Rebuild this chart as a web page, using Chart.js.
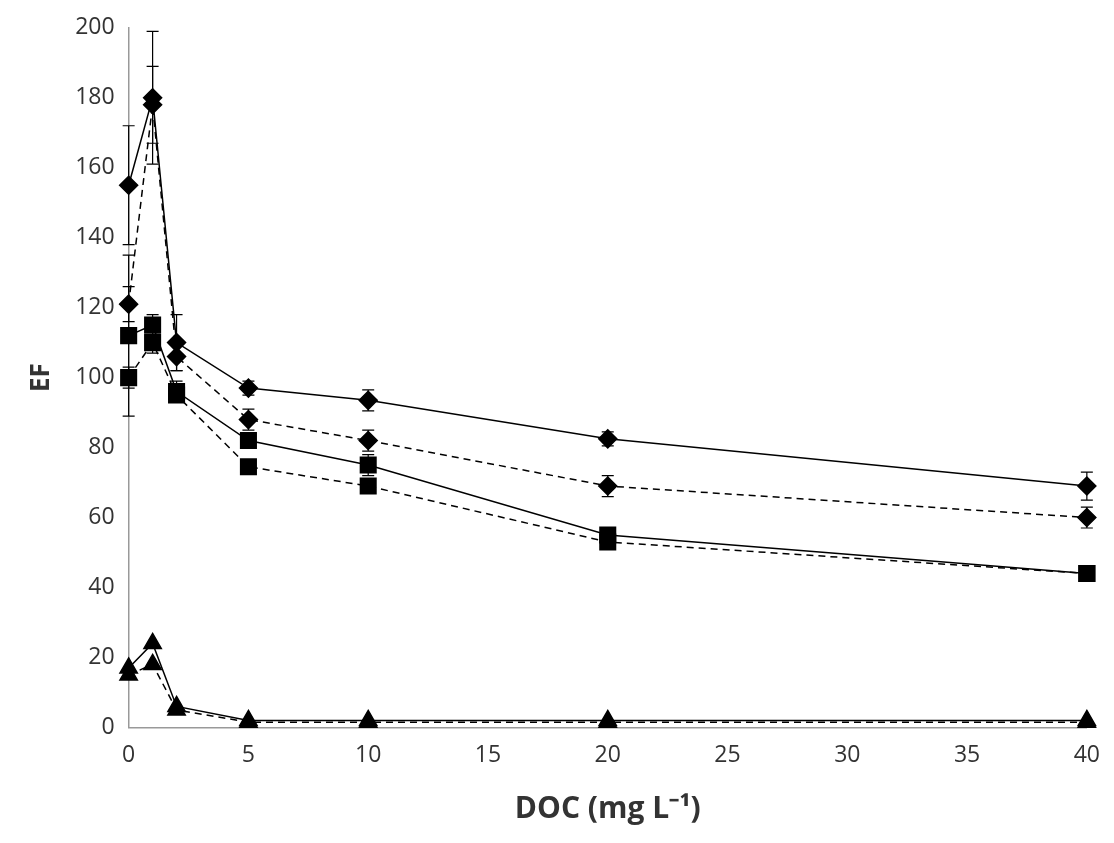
<!DOCTYPE html>
<html><head><script src="https://cdn.jsdelivr.net/npm/chart.js@4"></script>
<style>body{margin:0;background:#fff}#w{width:1114px;height:843px}</style></head>
<body><div id="w"><canvas id="c"></canvas></div>
<script>
const doc = [0,1,2,5,10,20,40];
const diamondSolid = [155,180,110,97,93.5,82.5,69];
const diamondSolidErr = [17,19,8,2,3,2,4];
const diamondDashed = [121,178,106,88,82,69,60];
const diamondDashedErr = [5,11,4,3,3,3,3];
const squareSolid = [112,115,96,82,75,55,44];
const squareSolidErr = [23,3,3,2,3,2,2];
const squareDashed = [100,110,95,74.5,69,53,44];
const squareDashedErr = [3,3,2,2,2,2,2];
const triSolid = [17,24,6,2,2,2,2];
const triDashed = [15,18,5,1.5,1.5,1.5,1.5];
const xTicks = [0,5,10,15,20,25,30,35,40];

function mk(label, ys, err, style, dash, r){
  return {label, data: doc.map((x,i)=>({x, y: ys[i]})), err, clip:false,
    borderColor:'#000', backgroundColor:'#000', borderWidth:1.5, borderDash: dash,
    pointStyle: style, pointRadius: r, pointHoverRadius: r, tension:0, showLine:true};
}
const errPlugin = {id:'err', afterDatasetsDraw(ch){
  const c=ch.ctx, xs=ch.scales.x, ys=ch.scales.y;
  c.save(); c.strokeStyle='#000'; c.lineWidth=1.2;
  ch.data.datasets.forEach(ds=>{ if(!ds.err) return;
    ds.data.forEach((p,i)=>{ const e=ds.err[i]; const px=xs.getPixelForValue(p.x);
      const t=ys.getPixelForValue(p.y+e), b=ys.getPixelForValue(p.y-e);
      c.beginPath(); c.moveTo(px,t); c.lineTo(px,b);
      c.moveTo(px-6,t); c.lineTo(px+6,t); c.moveTo(px-6,b); c.lineTo(px+6,b); c.stroke();});
  }); c.restore(); }};
new Chart(document.getElementById('c'), {
  type:'scatter',
  data:{datasets:[
    mk('Diamond solid', diamondSolid, diamondSolidErr, 'rectRot', [], 9),
    mk('Diamond dashed', diamondDashed, diamondDashedErr, 'rectRot', [7,5], 9),
    mk('Square solid', squareSolid, squareSolidErr, 'rect', [], 11),
    mk('Square dashed', squareDashed, squareDashedErr, 'rect', [7,5], 11),
    mk('Triangle solid', triSolid, null, 'triangle', [], 10),
    mk('Triangle dashed', triDashed, null, 'triangle', [7,5], 10)
  ]},
  plugins:[errPlugin],
  options:{responsive:true, maintainAspectRatio:false, animation:false,
    layout:{padding:{top:8,right:20,left:22,bottom:12}},
    plugins:{legend:{display:false}, tooltip:{enabled:false}},
    scales:{
      x:{type:'linear', min:0, max:40, afterBuildTicks(s){s.ticks=xTicks.map(v=>({value:v}));},
        grid:{display:false, drawTicks:false}, border:{color:'#999', width:1.5},
        ticks:{color:'#333', font:{family:'Open Sans', size:23}, padding:14},
        title:{display:true, text:'DOC (mg L⁻¹)', color:'#333', font:{family:'Open Sans', size:30, weight:'bold'}, padding:{top:8}}},
      y:{min:0, max:200, ticks:{stepSize:20, color:'#333', font:{family:'Open Sans', size:23}, padding:14},
        grid:{display:false, drawTicks:false}, border:{color:'#999', width:1.5},
        title:{display:true, text:'EF', color:'#333', font:{family:'Open Sans', size:26, weight:'bold'}}}
    }}
});
</script></body></html>
